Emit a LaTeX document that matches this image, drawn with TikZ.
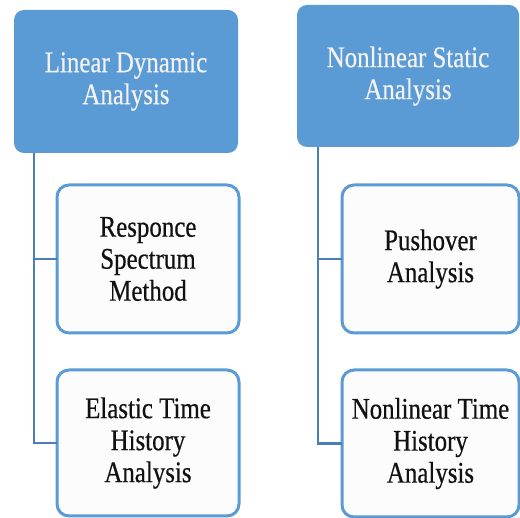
\documentclass[tikz,border=0pt]{standalone}
\usepackage{fontspec}
\setmainfont[FakeStretch=0.83, FakeBold=0.5]{Liberation Serif}
\usetikzlibrary{positioning}
\definecolor{nhead}{HTML}{5B9BD5}
\definecolor{nedge}{HTML}{5B9BD5}
\definecolor{nline}{HTML}{4A7EBB}
\definecolor{ntext}{HTML}{111111}
\tikzset{
  head/.style={fill=nhead, rounded corners=10pt, align=center, inner sep=0pt, outer sep=0pt,
               text=white!95!black, font=\fontsize{30}{32}\selectfont,
               execute at begin node={\vspace*{6pt}}},
  kid/.style={draw=nedge, fill=white!99!black, line width=3pt, rounded corners=12pt, outer sep=0pt,
              align=center, inner sep=0pt, text=ntext, font=\fontsize{30}{32}\selectfont},
  conn/.style={draw=nline, line width=2.4pt},
}
\begin{document}
\begin{tikzpicture}[x=1pt, y=1pt]
  \useasboundingbox (0,0) rectangle (520,-518);
  \node[head, minimum width=224pt, minimum height=143pt] (hdrL) at (126,-81.5) {Linear Dynamic\\Analysis};
  \node[head, minimum width=222pt, minimum height=142pt] (hdrR) at (408,-76) {Nonlinear Static\\Analysis};
  \node[kid, minimum width=182pt, minimum height=148pt, below right=32pt and 43pt of hdrL.south west] (kidL1) {Responce\\Spectrum\\Method};
  \node[kid, minimum width=182pt, minimum height=146pt, below=37pt of kidL1] (kidL2) {Elastic Time\\History\\Analysis};
  \node[kid, minimum width=177pt, minimum height=148pt, below right=38pt and 45pt of hdrR.south west] (kidR1) {Pushover\\Analysis};
  \node[kid, minimum width=177pt, minimum height=147pt, below=37pt of kidR1] (kidR2) {Nonlinear Time\\History\\Analysis};

  \draw[conn] ([xshift=20pt]hdrL.south west) |- (kidL1.west);
  \draw[conn] ([xshift=20pt]hdrL.south west) |- (kidL2.west);
  \draw[conn] ([xshift=21pt]hdrR.south west) |- (kidR1.west);
  \draw[conn] ([xshift=21pt]hdrR.south west) |- (kidR2.west);
\end{tikzpicture}
\end{document}
